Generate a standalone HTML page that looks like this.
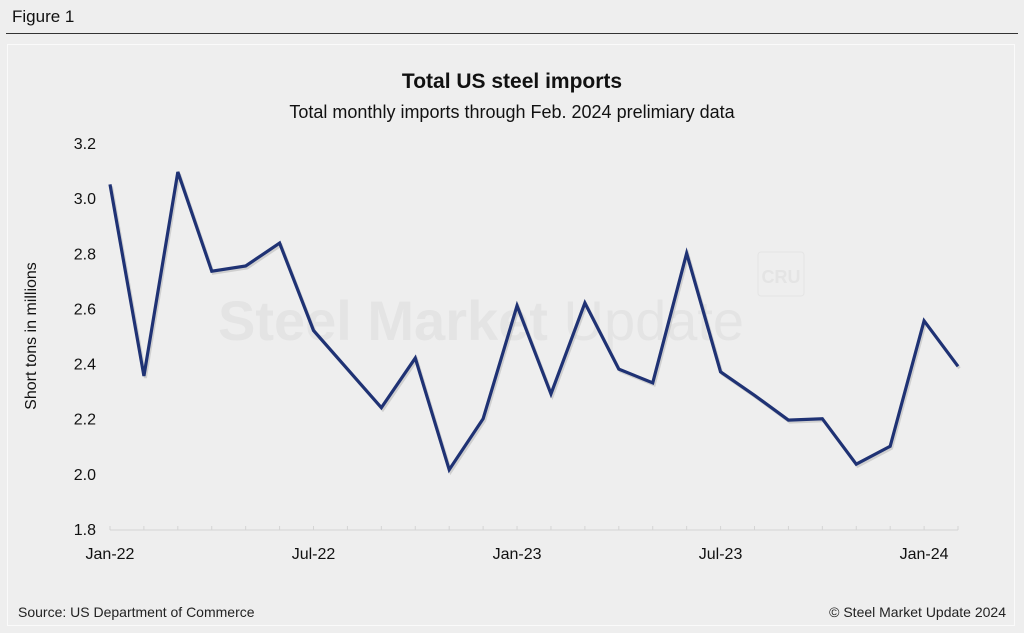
<!DOCTYPE html>
<html><head><meta charset="utf-8"><style>
body{margin:0;width:1024px;height:633px;background:#eeeeee;font-family:"Liberation Sans",Arial,sans-serif;overflow:hidden;position:relative}
</style></head><body>
<div style="position:absolute;left:12px;top:7px;font-size:17px;color:#111">Figure 1</div>
<div style="position:absolute;left:6px;top:33px;width:1012px;height:1px;background:#333"></div>
<div style="position:absolute;left:7px;top:44px;width:1008px;height:582px;border:1px solid #fafafa;box-sizing:border-box"></div>
<svg width="1024" height="633" style="position:absolute;left:0;top:0" id="chart">
<g fill="#e4e4e4" font-family="Liberation Sans, sans-serif">
<text x="218" y="340" font-size="56" font-weight="bold">Steel Market <tspan font-weight="normal">Update</tspan></text>
<rect x="758" y="252" width="46" height="44" rx="3" fill="none" stroke="#e4e4e4"/>
<text x="781" y="283" font-size="18" text-anchor="middle" font-weight="bold">CRU</text>
</g>
<text x="512" y="88" text-anchor="middle" font-size="21" font-weight="bold" fill="#111">Total US steel imports</text>
<text x="512" y="118" text-anchor="middle" font-size="18" fill="#111">Total monthly imports through Feb. 2024 prelimiary data</text>
<text transform="translate(36,336) rotate(-90)" text-anchor="middle" font-size="16" fill="#111">Short tons in millions</text>
<g id="yaxis"></g><g id="xaxis"></g><g id="series"></g>
<text x="18" y="617" font-size="14" fill="#222">Source: US Department of Commerce</text>
<text x="1006" y="617" text-anchor="end" font-size="14" fill="#222">© Steel Market Update 2024</text>
</svg>
<script>
const months=["Jan-22","Feb-22","Mar-22","Apr-22","May-22","Jun-22","Jul-22","Aug-22","Sep-22","Oct-22","Nov-22","Dec-22","Jan-23","Feb-23","Mar-23","Apr-23","May-23","Jun-23","Jul-23","Aug-23","Sep-23","Oct-23","Nov-23","Dec-23","Jan-24","Feb-24"];
const imports=[3.05,2.355,3.095,2.735,2.754,2.837,2.52,2.38,2.24,2.42,2.015,2.2,2.61,2.29,2.62,2.38,2.33,2.8,2.37,2.285,2.195,2.2,2.035,2.1,2.555,2.39];
const yTicks=[1.8,2.0,2.2,2.4,2.6,2.8,3.0,3.2];
const xLabels=["Jan-22","Jul-22","Jan-23","Jul-23","Jan-24"];
const NS="http://www.w3.org/2000/svg";
const x0=110,x1=958,yTop=143,yBot=529;
const xs=i=>x0+(x1-x0)*i/(months.length-1);
const ys=v=>yBot-(v-1.8)/(3.2-1.8)*(yBot-yTop);
function mk(t,a,p){const e=document.createElementNS(NS,t);for(const k in a)e.setAttribute(k,a[k]);p.appendChild(e);return e;}
const ya=document.getElementById('yaxis');
yTicks.forEach(v=>{const t=mk('text',{x:96,y:ys(v)+6,'text-anchor':'end','font-size':16,fill:'#111'},ya);t.textContent=v.toFixed(1);

});
const xa=document.getElementById('xaxis');
const ax=mk('line',{x1:x0,x2:x1,y1:yBot+1,y2:yBot+1,stroke:'#d4d4d4','stroke-width':1},xa);


months.forEach((m,i)=>{const tk=mk('line',{x1:xs(i),x2:xs(i),y1:yBot+1,y2:yBot-3,stroke:'#d4d4d4'},xa);


if(xLabels.includes(m)){const t=mk('text',{x:xs(i),y:559,'text-anchor':'middle','font-size':16,fill:'#111'},xa);t.textContent=m;

}});
const sg=document.getElementById('series');
const pts=imports.map((v,i)=>xs(i)+','+ys(v)).join(' ');
const sh=mk('polyline',{points:pts,fill:'none',stroke:'#bbb','stroke-width':3,transform:'translate(1.5,2)',opacity:0.6,'stroke-linejoin':'miter'},sg);


const pl=mk('polyline',{points:pts,fill:'none',stroke:'#1f3274','stroke-width':3.2,'stroke-linejoin':'miter'},sg);


</script>
</body></html>
